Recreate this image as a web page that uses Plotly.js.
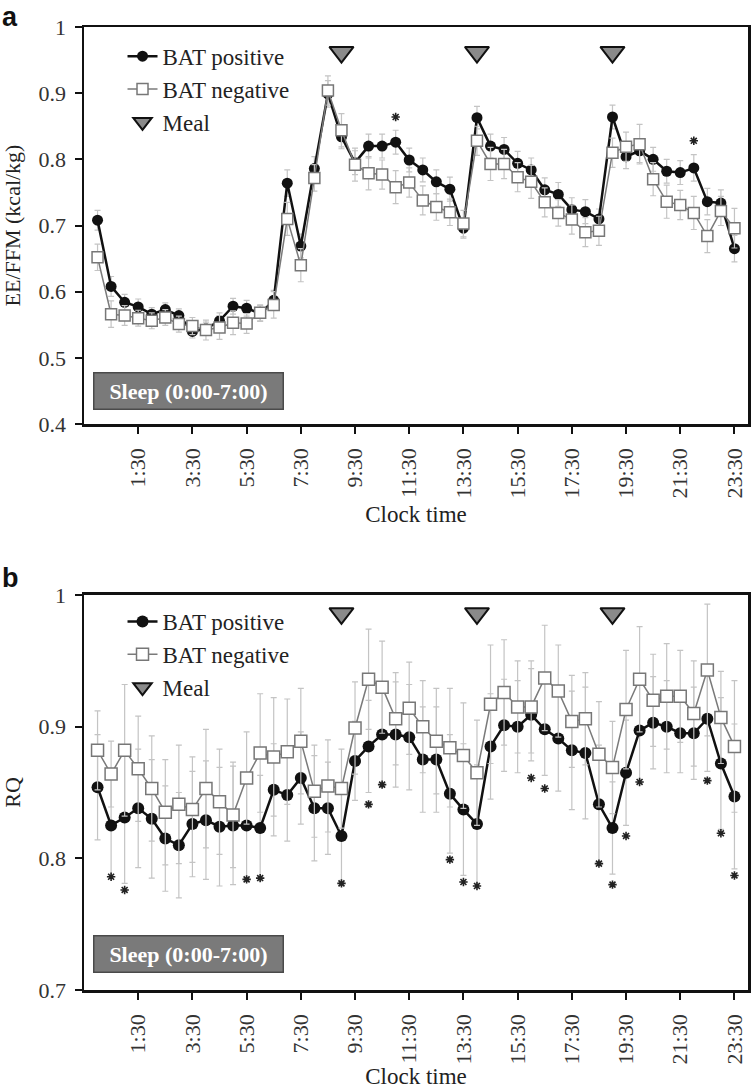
<!DOCTYPE html>
<html>
<head>
<meta charset="utf-8">
<script src="https://cdn.plot.ly/plotly-3.0.1.min.js"></script>
<style>html,body{margin:0;padding:0;background:#fff;}</style>
</head>
<body>
<div id="chart" style="width:752px;height:1089px;"></div>
<script>
// ---- Data ----
const times = ["0:00","0:30","1:00","1:30","2:00","2:30","3:00","3:30","4:00","4:30","5:00","5:30",
  "6:00","6:30","7:00","7:30","8:00","8:30","9:00","9:30","10:00","10:30","11:00","11:30",
  "12:00","12:30","13:00","13:30","14:00","14:30","15:00","15:30","16:00","16:30","17:00","17:30",
  "18:00","18:30","19:00","19:30","20:00","20:30","21:00","21:30","22:00","22:30","23:00","23:30"];
const tickLabels = ["1:30","3:30","5:30","7:30","9:30","11:30","13:30","15:30","17:30","19:30","21:30","23:30"];

// Panel a: EE/FFM (kcal/kg)
const eePos = [0.708,0.608,0.584,0.577,0.566,0.573,0.564,0.540,0.544,0.556,0.578,0.575,
  0.567,0.587,0.764,0.669,0.786,0.899,0.834,0.795,0.820,0.820,0.826,0.799,
  0.784,0.766,0.755,0.696,0.863,0.820,0.815,0.794,0.784,0.754,0.747,0.724,
  0.721,0.710,0.864,0.804,0.813,0.800,0.782,0.780,0.787,0.736,0.734,0.665];
const eePosErr = [0.015,0.015,0.012,0.012,0.010,0.010,0.010,0.010,0.010,0.012,0.012,0.012,
  0.012,0.015,0.020,0.018,0.018,0.020,0.018,0.018,0.018,0.018,0.018,0.018,
  0.018,0.018,0.018,0.015,0.017,0.018,0.018,0.018,0.018,0.018,0.018,0.018,
  0.018,0.015,0.018,0.018,0.018,0.018,0.018,0.018,0.020,0.020,0.020,0.020];
const eeNeg = [0.652,0.566,0.564,0.560,0.556,0.561,0.551,0.548,0.542,0.546,0.553,0.552,
  0.568,0.580,0.710,0.640,0.772,0.904,0.844,0.792,0.779,0.777,0.758,0.765,
  0.738,0.728,0.720,0.703,0.828,0.793,0.793,0.773,0.766,0.735,0.719,0.709,
  0.690,0.692,0.810,0.819,0.823,0.770,0.736,0.731,0.719,0.684,0.722,0.696];
const eeNegErr = [0.020,0.020,0.015,0.012,0.012,0.012,0.012,0.013,0.015,0.018,0.018,0.015,
  0.012,0.020,0.025,0.025,0.020,0.022,0.025,0.025,0.025,0.022,0.025,0.022,
  0.022,0.020,0.020,0.020,0.022,0.025,0.022,0.022,0.025,0.022,0.020,0.022,
  0.022,0.022,0.022,0.022,0.030,0.025,0.025,0.022,0.025,0.025,0.022,0.030];
const eeStarTimes = ["11:00","22:00"];
const eeStarVals = [0.864,0.828];

// Panel b: RQ
const rqPos = [0.854,0.825,0.831,0.838,0.830,0.815,0.810,0.826,0.829,0.824,0.825,0.825,
  0.823,0.852,0.848,0.861,0.838,0.838,0.817,0.874,0.885,0.894,0.894,0.892,
  0.875,0.875,0.849,0.837,0.826,0.885,0.901,0.900,0.909,0.898,0.891,0.882,
  0.880,0.841,0.823,0.865,0.897,0.903,0.900,0.895,0.895,0.906,0.872,0.847];
const rqPosErr = [0.040,0.040,0.050,0.045,0.045,0.040,0.040,0.040,0.045,0.045,0.045,0.040,
  0.040,0.035,0.035,0.035,0.040,0.035,0.035,0.030,0.035,0.040,0.040,0.040,
  0.040,0.040,0.045,0.050,0.045,0.040,0.035,0.035,0.035,0.035,0.040,0.045,
  0.050,0.045,0.035,0.040,0.040,0.035,0.035,0.030,0.035,0.040,0.050,0.055];
const rqNeg = [0.882,0.864,0.882,0.868,0.853,0.835,0.841,0.837,0.853,0.843,0.833,0.861,
  0.880,0.877,0.881,0.889,0.851,0.855,0.853,0.899,0.936,0.930,0.906,0.914,
  0.900,0.889,0.884,0.878,0.865,0.917,0.926,0.915,0.915,0.937,0.927,0.904,
  0.906,0.879,0.869,0.913,0.936,0.920,0.923,0.923,0.910,0.943,0.907,0.885];
const rqNegErr = [0.030,0.025,0.050,0.040,0.040,0.040,0.045,0.040,0.045,0.040,0.040,0.035,
  0.045,0.045,0.040,0.040,0.035,0.035,0.030,0.035,0.038,0.035,0.035,0.035,
  0.035,0.040,0.045,0.040,0.040,0.045,0.040,0.035,0.035,0.040,0.035,0.035,
  0.035,0.040,0.035,0.045,0.040,0.035,0.040,0.035,0.040,0.050,0.035,0.050];
const rqStarTimes = ["0:30","1:00","5:30","6:00","9:00","10:00","10:30","13:00","13:30","14:00",
  "16:00","16:30","18:30","19:00","19:30","20:00","22:30","23:00","23:30"];
const rqStarVals = [0.786,0.776,0.784,0.785,0.781,0.841,0.856,0.799,0.782,0.779,
  0.861,0.853,0.796,0.780,0.817,0.858,0.859,0.819,0.787];

const mealTimes = ["9:00","14:00","19:00"];
const mealEE = [0.962,0.962,0.962];
const mealRQ = [0.986,0.986,0.986];

// ---- Traces ----
const SERIF = "Liberation Serif, 'Times New Roman', serif";
const errGrey = "#c4c4c4";

function posTrace(y, err, xa, ya, leg, msize){
  return {x: times, y: y, type:'scatter', mode:'lines+markers', name:'BAT positive',
    xaxis:xa, yaxis:ya, legend:leg, legendgroup:leg+'p',
    line:{color:'#111', width:2.5},
    marker:{symbol:'circle', size:msize, color:'#111', line:{color:'#111', width:0}},
    error_y:{type:'data', array:err, visible:true, color:errGrey, thickness:1.2, width:3}};
}
function negTrace(y, err, xa, ya, leg, msize){
  return {x: times, y: y, type:'scatter', mode:'lines+markers', name:'BAT negative',
    xaxis:xa, yaxis:ya, legend:leg, legendgroup:leg+'n',
    line:{color:'#7a7a7a', width:1.5},
    marker:{symbol:'square', size:msize, color:'#ffffff', line:{color:'#777', width:1.5}},
    error_y:{type:'data', array:err, visible:true, color:errGrey, thickness:1.2, width:3}};
}
function mealTrace(y, xa, ya, leg){
  return {x: mealTimes, y: y, type:'scatter', mode:'markers', name:'Meal',
    xaxis:xa, yaxis:ya, legend:leg, legendgroup:leg+'m',
    marker:{symbol:'triangle-down', size:21, color:'#8a8a8a', line:{color:'#111', width:2}}};
}
function starTrace(tx, ty, xa, ya){
  return {x: tx, y: ty, type:'scatter', mode:'markers', showlegend:false,
    xaxis:xa, yaxis:ya, hoverinfo:'skip',
    marker:{symbol:'asterisk-open', size:7, color:'#222', line:{color:'#222', width:1.6}}};
}

const data = [
  posTrace(eePos, eePosErr, 'x', 'y', 'legend', 11),
  negTrace(eeNeg, eeNegErr, 'x', 'y', 'legend', 11),
  mealTrace(mealEE, 'x', 'y', 'legend'),
  starTrace(eeStarTimes, eeStarVals, 'x', 'y'),
  posTrace(rqPos, rqPosErr, 'x2', 'y2', 'legend2', 12),
  negTrace(rqNeg, rqNegErr, 'x2', 'y2', 'legend2', 12),
  mealTrace(mealRQ, 'x2', 'y2', 'legend2'),
  starTrace(rqStarTimes, rqStarVals, 'x2', 'y2')
];

function xAxis(anchor){
  return {anchor:anchor, domain:[0,1], type:'category', categoryorder:'array', categoryarray:times,
    range:[-1,48], tickmode:'array', tickvals:tickLabels, ticktext:tickLabels, tickangle:-90,
    ticks:'outside', ticklen:7, tickwidth:2, tickcolor:'#111', ticklabelstandoff:6,
    showline:true, linewidth:2.5, linecolor:'#111', mirror:true,
    showgrid:false, zeroline:false,
    tickfont:{family:SERIF, size:22, color:'#333'},
    title:{text:'Clock time', font:{family:SERIF, size:23, color:'#222'}, standoff:9}};
}
function yAxis(anchor, domain, range, ticks, title){
  return {anchor:anchor, domain:domain, range:range, tickmode:'array', tickvals:ticks,
    ticks:'outside', ticklen:7, tickwidth:2, tickcolor:'#111', ticklabelstandoff:4,
    showline:true, linewidth:2.5, linecolor:'#111', mirror:true,
    showgrid:false, zeroline:false,
    tickfont:{family:SERIF, size:22, color:'#333'},
    title:{text:title, font:{family:SERIF, size:22, color:'#222'}, standoff:12}};
}

function legendCfg(y){
  return {x:0.058, y:y, xanchor:'left', yanchor:'top', xref:'paper', yref:'paper',
    bgcolor:'rgba(0,0,0,0)', borderwidth:0, tracegroupgap:0,
    font:{family:SERIF, size:23, color:'#222'}};
}

function sleepBox(xr, yr, yv){
  return {xref:xr+' domain', yref:yr+' domain', x:0.158, y:yv, xanchor:'center', yanchor:'middle',
    text:'<b>Sleep (0:00-7:00)</b>', showarrow:false,
    font:{family:SERIF, size:22, color:'#ffffff'},
    bgcolor:'#7a7a7a', bordercolor:'#4a4a4a', borderwidth:1.5, borderpad:1, width:186, height:33};
}

const layout = {
  width:752, height:1089,
  margin:{l:84, r:4, t:27, b:99},
  paper_bgcolor:'#ffffff', plot_bgcolor:'#ffffff',
  font:{family:SERIF, size:21, color:'#222'},
  showlegend:true,
  xaxis: xAxis('y'),
  yaxis: yAxis('x', [0.5877,1], [0.4,1], [0.4,0.5,0.6,0.7,0.8,0.9,1], 'EE/FFM (kcal/kg)'),
  xaxis2: xAxis('y2'),
  yaxis2: yAxis('x2', [0,0.4102], [0.7,1], [0.7,0.8,0.9,1], 'RQ'),
  legend: legendCfg(0.992),
  legend2: legendCfg(0.405),
  annotations:[
    sleepBox('x','y',0.083),
    sleepBox('x2','y2',0.091),
    {xref:'paper', yref:'paper', x:-0.111, y:1.0105, xanchor:'center', yanchor:'middle', showarrow:false,
      text:'<b>a</b>', font:{family:'Liberation Sans, Arial, sans-serif', size:27, color:'#111'}},
    {xref:'paper', yref:'paper', x:-0.111, y:0.428, xanchor:'center', yanchor:'middle', showarrow:false,
      text:'<b>b</b>', font:{family:'Liberation Sans, Arial, sans-serif', size:27, color:'#111'}}
  ]
};

Plotly.newPlot('chart', data, layout, {displayModeBar:false, staticPlot:true});
</script>
</body>
</html>
